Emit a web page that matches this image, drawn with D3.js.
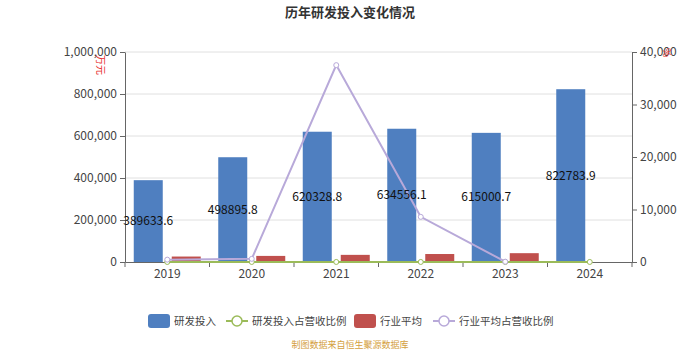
<!DOCTYPE html>
<html><head><meta charset="utf-8">
<script src="https://cdn.jsdelivr.net/npm/d3@7"></script>
<style>body{margin:0;background:#fff;}svg{display:block;font-family:"Microsoft YaHei","Noto Sans CJK SC",sans-serif;}</style>
</head><body><div id="chart"></div>
<script>
const years = ["2019","2020","2021","2022","2023","2024"];
const rdInvest = [389633.6, 498895.8, 620328.8, 634556.1, 615000.7, 822783.9];
const rdRatio = [5, 6, 6, 6, 6, 6];
const industryAvg = [26000, 29000, 34000, 38000, 42000, null];
const industryRatio = [450, 600, 37500, 8600, 60, null];
const leftTicks = [0, 200000, 400000, 600000, 800000, 1000000];
const rightTicks = [0, 10000, 20000, 30000, 40000];

const W = 700, H = 350;
const m = {l:125, r:632, t:52, b:262};
const svg = d3.select("#chart").append("svg").attr("width", W).attr("height", H);

const x = d3.scaleBand().domain(years).range([m.l, m.r]);
const yL = d3.scaleLinear().domain([0, 1000000]).range([m.b, m.t]);
const yR = d3.scaleLinear().domain([0, 40000]).range([m.b, m.t]);
const fmt = d3.format(",");

svg.append("text").attr("x", 350).attr("y", 17).attr("text-anchor", "middle")
  .attr("font-size", 13).attr("font-weight", "bold").attr("fill", "#333").text("历年研发投入变化情况");

// grid
svg.append("g").selectAll("line").data(leftTicks.slice(1)).join("line")
  .attr("x1", m.l).attr("x2", m.r).attr("y1", d => yL(d)).attr("y2", d => yL(d))
  .attr("stroke", "#e0e0e0").attr("stroke-width", 1);

// left axis
const gL = svg.append("g").attr("transform", `translate(${m.l},0)`)
  .call(d3.axisLeft(yL).tickValues(leftTicks).tickFormat(fmt).tickSize(5).tickSizeOuter(0));
// right axis
const gR = svg.append("g").attr("transform", `translate(${m.r},0)`)
  .call(d3.axisRight(yR).tickValues(rightTicks).tickFormat(fmt).tickSize(5).tickSizeOuter(0));
[gL, gR].forEach(g => {
  g.select(".domain").attr("stroke", "#666");
  g.selectAll(".tick line").attr("stroke", "#666");
  g.selectAll(".tick text").attr("fill", "#444").attr("font-size", 12)
    .attr("font-family", "'Microsoft YaHei','Noto Sans CJK SC',sans-serif");
});

// bars
const bw = 29;
svg.append("g").selectAll("rect").data(years).join("rect")
  .attr("x", (d,i) => x(d) + x.bandwidth()/2 - bw - 4.5)
  .attr("y", (d,i) => yL(rdInvest[i])).attr("width", bw)
  .attr("height", (d,i) => yL(0) - yL(rdInvest[i])).attr("fill", "#4f7fc0");
svg.append("g").selectAll("rect").data(years.filter((d,i) => industryAvg[i] != null)).join("rect")
  .attr("x", d => x(d) + x.bandwidth()/2 + 4.5)
  .attr("y", (d) => yL(industryAvg[years.indexOf(d)])).attr("width", bw)
  .attr("height", d => yL(0) - yL(industryAvg[years.indexOf(d)])).attr("fill", "#c0504d");

// bottom axis
const gB = svg.append("g").attr("transform", `translate(0,${m.b})`)
  .call(d3.axisBottom(x).tickSize(0).tickSizeOuter(0));
gB.select(".domain").attr("stroke", "#666");
gB.selectAll(".tick text").attr("fill", "#444").attr("font-size", 12).attr("dy", "1.1em")
  .attr("font-family", "'Microsoft YaHei','Noto Sans CJK SC',sans-serif");
svg.append("g").selectAll("line").data(d3.range(years.length + 1)).join("line")
  .attr("x1", i => m.l + i * x.bandwidth()).attr("x2", i => m.l + i * x.bandwidth())
  .attr("y1", m.b).attr("y2", m.b + 5).attr("stroke", "#666");

// lines
const cx = d => x(d) + x.bandwidth()/2;
const lineR = d3.line().defined(d => d[1] != null).x(d => cx(d[0])).y(d => yR(d[1]));
const greenData = years.map((d,i) => [d, rdRatio[i]]);
const purpleData = years.map((d,i) => [d, industryRatio[i]]);
svg.append("path").datum(greenData).attr("d", lineR).attr("fill", "none").attr("stroke", "#9bbb59").attr("stroke-width", 2);
svg.append("path").datum(purpleData).attr("d", lineR).attr("fill", "none").attr("stroke", "#b8a9d9").attr("stroke-width", 2);
svg.append("g").selectAll("circle").data(greenData).join("circle")
  .attr("cx", d => cx(d[0])).attr("cy", d => yR(d[1])).attr("r", 2.5)
  .attr("fill", "#fff").attr("stroke", "#9bbb59").attr("stroke-width", 1);
svg.append("g").selectAll("circle").data(purpleData.filter(d => d[1] != null)).join("circle")
  .attr("cx", d => cx(d[0])).attr("cy", d => yR(d[1])).attr("r", 2.5)
  .attr("fill", "#fff").attr("stroke", "#b8a9d9").attr("stroke-width", 1);

// labels
svg.append("g").selectAll("text").data(years).join("text")
  .attr("x", d => x(d) + x.bandwidth()/2 - bw/2 - 4.5)
  .attr("y", (d,i) => (yL(rdInvest[i]) + yL(0))/2 + 4)
  .attr("text-anchor", "middle").attr("font-size", 12).attr("fill", "#111")
  .text((d,i) => rdInvest[i].toFixed(1));

// unit labels
svg.append("text").attr("transform", "translate(97,55) rotate(90)")
  .attr("font-size", 10).attr("fill", "#e8302f").text("万元");
svg.append("text").attr("transform", "translate(663,48) rotate(90)")
  .attr("font-size", 10).attr("fill", "#e8302f").text("%");

// legend
const lg = svg.append("g").attr("font-size", 10.5).attr("fill", "#444");
const items = [
  {t:"研发投入", type:"rect", c:"#4f7fc0", x:148},
  {t:"研发投入占营收比例", type:"line", c:"#9bbb59", x:226},
  {t:"行业平均", type:"rect", c:"#c0504d", x:354},
  {t:"行业平均占营收比例", type:"line", c:"#b8a9d9", x:433}
];
items.forEach(it => {
  const g = lg.append("g").attr("transform", `translate(${it.x},321)`);
  if (it.type === "rect") {
    g.append("rect").attr("x", 0).attr("y", -7).attr("width", 22).attr("height", 14).attr("rx", 3).attr("fill", it.c);
  } else {
    g.append("line").attr("x1", 0).attr("x2", 22).attr("y1", 0).attr("y2", 0).attr("stroke", it.c).attr("stroke-width", 2);
    g.append("circle").attr("cx", 11).attr("cy", 0).attr("r", 5).attr("fill", "#fff").attr("stroke", it.c).attr("stroke-width", 1.5);
  }
  g.append("text").attr("x", 26).attr("y", 4).attr("fill", "#444").text(it.t);
});

svg.append("text").attr("x", 350).attr("y", 348).attr("text-anchor", "middle")
  .attr("font-size", 9).attr("fill", "#d4a040").text("制图数据来自恒生聚源数据库");
</script></body></html>
